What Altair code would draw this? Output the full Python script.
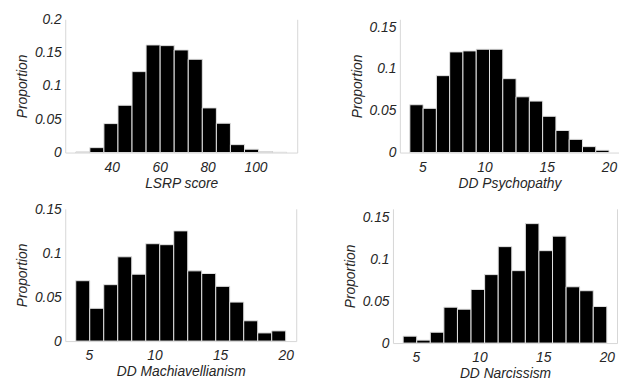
import altair as alt
import numpy as np
import pandas as pd

# Histogram proportions (15 bins each)
lsrp_prop = [0.001, 0.0074, 0.0435, 0.071, 0.1215, 0.1615, 0.1605, 0.154, 0.140,
             0.067, 0.044, 0.0119, 0.005, 0.0015, 0.0005]
psy_prop = [0.0572, 0.0529, 0.092, 0.1204, 0.1216, 0.1236, 0.1236, 0.0884, 0.0667,
            0.0616, 0.0434, 0.0264, 0.0158, 0.0071, 0.0028]
mach_prop = [0.0687, 0.0373, 0.0642, 0.0959, 0.0761, 0.1108, 0.1097, 0.1254, 0.0799,
             0.0769, 0.0623, 0.0444, 0.0231, 0.0093, 0.0116]
narc_prop = [0.0082, 0.0035, 0.0129, 0.0427, 0.0403, 0.0638, 0.0815, 0.1148, 0.0862,
             0.1422, 0.1100, 0.1273, 0.0670, 0.0623, 0.0435]

# Data ranges (min, max) for the binning
lsrp_range = (25, 113)
dd_range = (4, 20)

titles = ["LSRP score", "DD Psychopathy", "DD Machiavellianism", "DD Narcissism"]
lsrp_ticks = [40, 60, 80, 100]
dd_ticks = [5, 10, 15, 20]
y_ticks_a = [0, 0.05, 0.1, 0.15, 0.2]
y_ticks_b = [0, 0.05, 0.1, 0.15]

FONT = "Liberation Sans"
TXT = "#262626"
AX = "#d6d6d6"


def make_df(props, rng):
    edges = np.linspace(rng[0], rng[1], len(props) + 1)
    return pd.DataFrame({"lo": edges[:-1], "hi": edges[1:], "p": props})


def panel(props, rng, xticks, xtitle, ymax, yticks, w, h):
    df = make_df(props, rng)
    pad = 0.05 * (rng[1] - rng[0])
    xs = alt.Scale(domain=[rng[0] - pad, rng[1] + pad], nice=False, zero=False)
    ys = alt.Scale(domain=[0, ymax], nice=False)
    base = alt.Chart(df)
    bars = base.mark_bar(color="black", stroke="#e2e2e2", strokeWidth=1).encode(
        x=alt.X("lo:Q", scale=xs, title=xtitle,
                axis=alt.Axis(values=xticks, ticks=False, labelPadding=8,
                              titlePadding=2, domainColor=AX, grid=False,
                              labelFlush=False)),
        x2="hi:Q",
        y=alt.Y("p:Q", scale=ys, title="Proportion",
                axis=alt.Axis(values=yticks, format="~g", ticks=False,
                              labelPadding=4, titlePadding=2, minExtent=34,
                              maxExtent=34, domainColor=AX, grid=False,
                              labelOverlap=False, labelFlush=False)),
        y2=alt.datum(0),
    )
    right = base.mark_bar(opacity=0).encode(
        x=alt.X("lo:Q", scale=xs),
        x2="hi:Q",
        y=alt.Y("p:Q", scale=ys,
                axis=alt.Axis(orient="right", labels=False, ticks=False, title=None,
                              domainColor=AX, grid=False, minExtent=0, maxExtent=0)),
        y2=alt.datum(0),
    )
    return alt.layer(bars, right).resolve_axis(y="independent").properties(width=w, height=h)


p1 = panel(lsrp_prop, lsrp_range, lsrp_ticks, titles[0], 0.2, y_ticks_a, 235, 135)
p2 = panel(psy_prop, dd_range, dd_ticks, titles[1], 0.1594, y_ticks_b, 222, 135)
p3 = panel(mach_prop, dd_range, dd_ticks, titles[2], 0.1505, y_ticks_b, 234, 134)
p4 = panel(narc_prop, dd_range, dd_ticks, titles[3], 0.1598, y_ticks_b, 227, 136)

row1 = alt.hconcat(p1, p2, spacing=54)
row2 = alt.hconcat(p3, p4, spacing=48)

chart = alt.vconcat(row1, row2, spacing=12).properties(
    padding={"left": 8, "top": 2, "right": 0, "bottom": 0}
).configure_view(stroke=None).configure_axis(
    labelFont=FONT, titleFont=FONT, labelFontSize=14, titleFontSize=14,
    labelFontStyle="italic", titleFontStyle="italic", titleFontWeight="normal",
    labelColor=TXT, titleColor=TXT,
)

chart.save("out.html", embed_options={"renderer": "svg", "actions": False})
